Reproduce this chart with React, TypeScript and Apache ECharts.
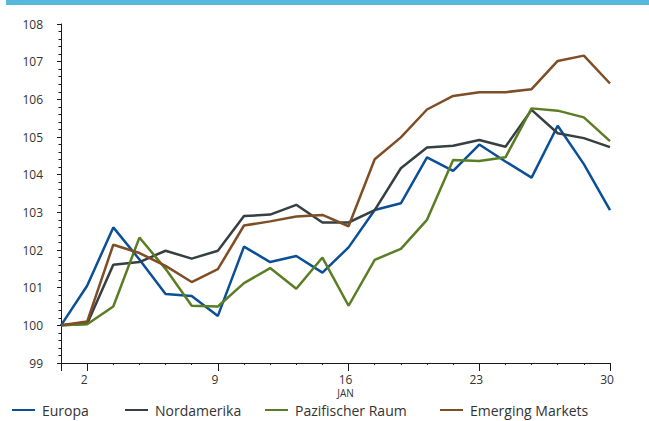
import React, { useEffect, useRef } from "react";
import * as echarts from "echarts";

// Trading days (Dec 30 close as base = 100, then January sessions)
const days = [
  "2022-12-30", "2023-01-02", "2023-01-03", "2023-01-04", "2023-01-05", "2023-01-06",
  "2023-01-09", "2023-01-10", "2023-01-11", "2023-01-12", "2023-01-13",
  "2023-01-16", "2023-01-17", "2023-01-18", "2023-01-19", "2023-01-20",
  "2023-01-23", "2023-01-24", "2023-01-25", "2023-01-26", "2023-01-27",
  "2023-01-30",
];

// Labelled Mondays on the time axis
const tickLabels: Record<string, string> = {
  "2023-01-02": "{d|2}",
  "2023-01-09": "{d|9}",
  "2023-01-16": "{d|16}\n{m|JAN}",
  "2023-01-23": "{d|23}",
  "2023-01-30": "{d|30}",
};

const regions = ["Europa", "Nordamerika", "Pazifischer Raum", "Emerging Markets"];
const colors = ["#0b4f97", "#363f42", "#5b7e24", "#7e4e26"];

const europa = [100, 101.05, 102.6, 101.75, 100.83, 100.78, 100.25, 102.09, 101.68, 101.84, 101.4, 102.07, 103.06, 103.24, 104.46, 104.1, 104.8, 104.35, 103.92, 105.3, 104.28, 103.06];
const nordamerika = [100, 100.04, 101.61, 101.68, 101.98, 101.77, 101.98, 102.9, 102.94, 103.2, 102.73, 102.73, 103.06, 104.17, 104.72, 104.77, 104.92, 104.74, 105.72, 105.1, 104.97, 104.73];
const pazifik = [100, 100.03, 100.5, 102.33, 101.5, 100.52, 100.5, 101.12, 101.52, 100.97, 101.8, 100.52, 101.74, 102.03, 102.8, 104.39, 104.36, 104.46, 105.76, 105.7, 105.52, 104.89];
const emerging = [100, 100.1, 102.14, 101.92, 101.58, 101.15, 101.49, 102.65, 102.76, 102.89, 102.93, 102.63, 104.41, 104.99, 105.73, 106.09, 106.19, 106.19, 106.27, 107.02, 107.16, 106.42];

const yMin = 99;
const yMax = 108;

const FONT = "'Open Sans', 'Noto Sans', sans-serif";
const AXIS = "#1a1a1a";

// Left edge of each legend entry along the bottom row
const legendLeft = [12, 125, 265, 440];

export default function App() {
  const ref = useRef<HTMLDivElement>(null);

  useEffect(() => {
    document.body.style.margin = "0";
    if (!ref.current) return;
    const chart = echarts.init(ref.current, undefined, { renderer: "svg" });

    const seriesData = [europa, nordamerika, pazifik, emerging];
    const isMajor = (i: number) => i === 0 || tickLabels[days[i]] !== undefined;

    chart.setOption({
      animation: false,
      backgroundColor: "#ffffff",
      textStyle: { fontFamily: FONT },
      graphic: [
        {
          type: "rect",
          shape: { x: 6, y: 0, width: 643, height: 5 },
          style: { fill: "#57b7dc" },
        },
      ],
      grid: { left: 61, right: 39, top: 24, bottom: 58 },
      legend: regions.map((name, i) => ({
        left: legendLeft[i],
        top: 403,
        padding: 0,
        itemWidth: 23,
        itemHeight: 2,
        icon: "rect",
        textStyle: { fontFamily: FONT, fontSize: 14, color: "#333", padding: [0, 0, 0, 2] },
        data: [name],
      })),
      xAxis: [
        {
          type: "category",
          data: days,
          boundaryGap: false,
          axisLine: { show: true, lineStyle: { color: AXIS, width: 1 } },
          axisTick: { show: true, interval: 0, length: 2, lineStyle: { color: AXIS } },
          axisLabel: { show: false },
          splitLine: { show: false },
        },
        {
          type: "category",
          data: days,
          boundaryGap: false,
          position: "bottom",
          axisLine: { show: false },
          axisTick: {
            show: true,
            length: 8,
            interval: (i: number) => isMajor(i),
            lineStyle: { color: AXIS },
          },
          axisLabel: {
            show: true,
            interval: (i: number) => tickLabels[days[i]] !== undefined,
            formatter: (v: string) => tickLabels[v] ?? "",
            margin: 9,
            padding: [0, 6, 0, 0],
            rich: {
              d: { fontFamily: FONT, fontSize: 12, lineHeight: 14, color: "#333" },
              m: { fontFamily: FONT, fontSize: 10, lineHeight: 14, color: "#333" },
            },
          },
          splitLine: { show: false },
        },
      ],
      yAxis: {
        type: "value",
        min: yMin,
        max: yMax,
        interval: 1,
        axisLine: { show: true, lineStyle: { color: AXIS, width: 1 } },
        axisTick: { show: true, length: 4, lineStyle: { color: AXIS } },
        minorTick: { show: true, splitNumber: 5, length: 2.5, lineStyle: { color: AXIS } },
        splitLine: { show: false },
        axisLabel: {
          fontFamily: FONT,
          fontSize: 12,
          color: "#333",
          margin: 18,
          padding: [0, 0, 7, 0],
        },
      },
      series: regions.map((name, i) => ({
        name,
        type: "line",
        data: seriesData[i],
        xAxisIndex: 0,
        symbol: "none",
        lineStyle: { color: colors[i], width: 2.5 },
        itemStyle: { color: colors[i] },
      })),
    });

    return () => chart.dispose();
  }, []);

  return <div ref={ref} style={{ width: 649, height: 421 }} />;
}
